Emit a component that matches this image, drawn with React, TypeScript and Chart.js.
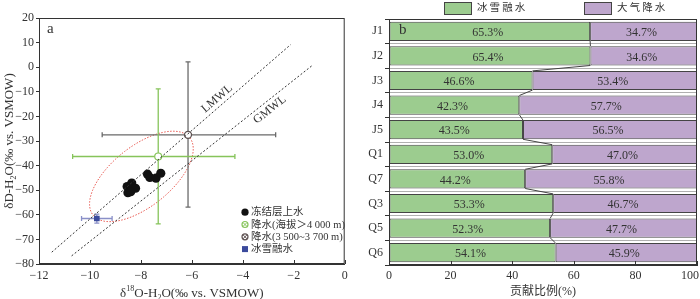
import React, { useEffect, useRef } from 'react';
import { Chart, registerables } from 'chart.js';

Chart.register(...registerables);

const SERIF = '"Liberation Serif", "DejaVu Serif", "Noto Sans CJK SC", serif';
const TEXT = '#333333';
const AXIS = '#333333';

// ---------------- Panel a : isotope scatter ----------------
const SUPRA_O = [-7.74, -7.65, -7.41, -7.22, -8.54, -8.36, -8.21, -8.51, -8.4];
const SUPRA_D = [-43.5, -44.8, -45.1, -43.1, -48.5, -47.1, -49.2, -51.0, -50.6];

const PRECIP_HIGH_O = [-7.32];
const PRECIP_HIGH_D = [-36.3];
const PRECIP_HIGH_O_RANGE = [-10.68, -4.31];
const PRECIP_HIGH_D_RANGE = [-63.7, -8.8];

const PRECIP_MID_O = [-6.15];
const PRECIP_MID_D = [-27.5];
const PRECIP_MID_O_RANGE = [-9.52, -2.71];
const PRECIP_MID_D_RANGE = [-56.9, 2.2];

const SNOW_O = [-9.73];
const SNOW_D = [-61.5];
const SNOW_O_RANGE = [-10.33, -9.13];
const SNOW_D_RANGE = [-63.4, -59.7];

const LMWL_O = [-11.5, -2.12];
const LMWL_D = [-75.2, 9.2];
const GMWL_O = [-10.72, -1.28];
const GMWL_D = [-76.7, 0.65];

const ELLIPSE_CENTER = [-7.98, -44.4];
const ELLIPSE_AXIS_A = [1.9, 15.7];
const ELLIPSE_AXIS_B = [0.73, -9.57];

const LMWL_LABEL_AT = [-5.01, -12.8];
const GMWL_LABEL_AT = [-2.94, -17.3];

const A_X_MIN = -12, A_X_MAX = 0, A_X_STEP = 2;
const A_Y_MIN = -80, A_Y_MAX = 20, A_Y_STEP = 10;

const LEGEND_A = ['冻结层上水', '降水(海拔＞4 000 m)', '降水(3 500~3 700 m)', '冰雪融水'];

// ---------------- Panel b : contribution bars ----------------
const SITES = ['J1', 'J2', 'J3', 'J4', 'J5', 'Q1', 'Q7', 'Q3', 'Q5', 'Q6'];
const SNOWMELT_PCT = [65.3, 65.4, 46.6, 42.3, 43.5, 53.0, 44.2, 53.3, 52.3, 54.1];
const RAIN_PCT = [34.7, 34.6, 53.4, 57.7, 56.5, 47.0, 55.8, 46.7, 47.7, 45.9];
const LEGEND_B = ['冰雪融水', '大气降水'];
const B_X_MIN = 0, B_X_MAX = 100, B_X_STEP = 20;

const GREEN_PT = '#86c45a';
const GRAY_PT = '#5e5252';
const GRAY_BAR = '#6a6a6a';
const BLUE_BAR = '#8a90c8';
const BLUE_PT = '#3b4a9c';
const RED_ELL = '#e8574f';
const BAR_GREEN = '#9ccc8f';
const BAR_PURPLE = '#bea6cd';
const BAR_EDGE = '#444444';

const fmt = (v: number) => (v < 0 ? '\u2212' + Math.abs(v) : String(v));
const pts = (xs: number[], ys: number[]) => xs.map((x, i) => ({ x, y: ys[i] }));

type Seg = { t: string; s?: 'sub' | 'sup' };
function drawRich(ctx: CanvasRenderingContext2D, segs: Seg[], cx: number, cy: number, size: number, rot: number) {
  ctx.save();
  ctx.translate(cx, cy);
  ctx.rotate(rot);
  const small = size * 0.62;
  const widths = segs.map((sg) => {
    ctx.font = `${sg.s ? small : size}px ${SERIF}`;
    return ctx.measureText(sg.t).width;
  });
  const total = widths.reduce((a, b) => a + b, 0);
  let x = -total / 2;
  ctx.textAlign = 'left';
  ctx.textBaseline = 'alphabetic';
  ctx.fillStyle = TEXT;
  segs.forEach((sg, i) => {
    ctx.font = `${sg.s ? small : size}px ${SERIF}`;
    const dy = sg.s === 'sub' ? size * 0.25 : sg.s === 'sup' ? -size * 0.4 : 0;
    ctx.fillText(sg.t, x, size * 0.35 + dy);
    x += widths[i];
  });
  ctx.restore();
}

function drawCircleX(ctx: CanvasRenderingContext2D, x: number, y: number, r: number, color: string) {
  ctx.save();
  ctx.strokeStyle = color;
  ctx.lineWidth = 1.2;
  ctx.fillStyle = '#fff';
  ctx.beginPath();
  ctx.arc(x, y, r, 0, Math.PI * 2);
  ctx.fill();
  ctx.stroke();
  const d = r * Math.SQRT1_2;
  ctx.lineWidth = 1;
  ctx.beginPath();
  ctx.moveTo(x - d, y - d);
  ctx.lineTo(x + d, y + d);
  ctx.moveTo(x - d, y + d);
  ctx.lineTo(x + d, y - d);
  ctx.stroke();
  ctx.restore();
}

const panelAPlugin = {
  id: 'panelA',
  beforeDatasetsDraw(chart: any) {
    const { ctx, chartArea } = chart;
    const xs = chart.scales.x;
    const ys = chart.scales.y;
    ctx.save();
    ctx.beginPath();
    ctx.rect(chartArea.left, chartArea.top, chartArea.right - chartArea.left, chartArea.bottom - chartArea.top);
    ctx.clip();
    // ellipse
    ctx.strokeStyle = RED_ELL;
    ctx.lineWidth = 1;
    ctx.setLineDash([1.5, 1.5]);
    ctx.beginPath();
    for (let k = 0; k <= 160; k++) {
      const t = (k / 160) * Math.PI * 2;
      const dx = ELLIPSE_CENTER[0] + ELLIPSE_AXIS_A[0] * Math.cos(t) + ELLIPSE_AXIS_B[0] * Math.sin(t);
      const dy = ELLIPSE_CENTER[1] + ELLIPSE_AXIS_A[1] * Math.cos(t) + ELLIPSE_AXIS_B[1] * Math.sin(t);
      const px = xs.getPixelForValue(dx);
      const py = ys.getPixelForValue(dy);
      if (k === 0) ctx.moveTo(px, py);
      else ctx.lineTo(px, py);
    }
    ctx.stroke();
    ctx.setLineDash([]);
    // error bars
    const groups = [
      { o: PRECIP_MID_O[0], d: PRECIP_MID_D[0], or: PRECIP_MID_O_RANGE, dr: PRECIP_MID_D_RANGE, c: GRAY_BAR },
      { o: PRECIP_HIGH_O[0], d: PRECIP_HIGH_D[0], or: PRECIP_HIGH_O_RANGE, dr: PRECIP_HIGH_D_RANGE, c: GREEN_PT },
      { o: SNOW_O[0], d: SNOW_D[0], or: SNOW_O_RANGE, dr: SNOW_D_RANGE, c: BLUE_BAR },
    ];
    const cap = 2.5;
    groups.forEach((g) => {
      const px = xs.getPixelForValue(g.o);
      const py = ys.getPixelForValue(g.d);
      const x0 = xs.getPixelForValue(g.or[0]);
      const x1 = xs.getPixelForValue(g.or[1]);
      const y0 = ys.getPixelForValue(g.dr[0]);
      const y1 = ys.getPixelForValue(g.dr[1]);
      ctx.strokeStyle = g.c;
      ctx.lineWidth = 1.3;
      ctx.beginPath();
      ctx.moveTo(x0, py);
      ctx.lineTo(x1, py);
      ctx.moveTo(x0, py - cap);
      ctx.lineTo(x0, py + cap);
      ctx.moveTo(x1, py - cap);
      ctx.lineTo(x1, py + cap);
      ctx.moveTo(px, y0);
      ctx.lineTo(px, y1);
      ctx.moveTo(px - cap, y0);
      ctx.lineTo(px + cap, y0);
      ctx.moveTo(px - cap, y1);
      ctx.lineTo(px + cap, y1);
      ctx.stroke();
    });
    ctx.restore();
  },
  afterDraw(chart: any) {
    const { ctx, chartArea } = chart;
    const xs = chart.scales.x;
    const ys = chart.scales.y;
    ctx.save();
    // frame
    ctx.strokeStyle = AXIS;
    ctx.lineWidth = 1;
    ctx.strokeRect(chartArea.left + 0.5, chartArea.top + 0.5, chartArea.right - chartArea.left - 1, chartArea.bottom - chartArea.top - 1);
    // inward x ticks
    ctx.beginPath();
    xs.ticks.forEach((t: any) => {
      const x = Math.round(xs.getPixelForValue(t.value)) + 0.5;
      ctx.moveTo(x, chartArea.bottom);
      ctx.lineTo(x, chartArea.bottom - 4);
    });
    ctx.stroke();
    // panel letter
    ctx.fillStyle = TEXT;
    ctx.font = `15px ${SERIF}`;
    ctx.textAlign = 'left';
    ctx.textBaseline = 'middle';
    ctx.fillText('a', chartArea.left + 8, chartArea.top + 11);
    // meteoric water line labels
    const lab = (txt: string, at: number[], lo: number[], ld: number[]) => {
      const p0x = xs.getPixelForValue(lo[0]);
      const p0y = ys.getPixelForValue(ld[0]);
      const p1x = xs.getPixelForValue(lo[1]);
      const p1y = ys.getPixelForValue(ld[1]);
      const ang = Math.atan2(p1y - p0y, p1x - p0x);
      ctx.save();
      ctx.translate(xs.getPixelForValue(at[0]), ys.getPixelForValue(at[1]));
      ctx.rotate(ang);
      ctx.font = `12px ${SERIF}`;
      ctx.textAlign = 'center';
      ctx.textBaseline = 'middle';
      ctx.fillStyle = TEXT;
      ctx.fillText(txt, 0, 0);
      ctx.restore();
    };
    lab('LMWL', LMWL_LABEL_AT, LMWL_O, LMWL_D);
    lab('GMWL', GMWL_LABEL_AT, GMWL_O, GMWL_D);
    // legend
    const lx = chartArea.left + 206;
    const ly0 = chartArea.top + 194.2;
    const gap = 12.3;
    ctx.font = `10.5px ${SERIF}`;
    ctx.textAlign = 'left';
    ctx.textBaseline = 'middle';
    LEGEND_A.forEach((txt, i) => {
      const y = ly0 + i * gap;
      if (i === 0) {
        ctx.fillStyle = '#111';
        ctx.beginPath();
        ctx.arc(lx, y, 3.6, 0, Math.PI * 2);
        ctx.fill();
      } else if (i === 1) {
        drawCircleX(ctx, lx, y, 3, GREEN_PT);
      } else if (i === 2) {
        drawCircleX(ctx, lx, y, 3, GRAY_PT);
      } else {
        ctx.fillStyle = BLUE_PT;
        ctx.fillRect(lx - 3, y - 3, 6, 6);
      }
      ctx.fillStyle = TEXT;
      ctx.fillText(txt, lx + 6, y + 0.5);
    });
    // axis titles
    const cx = (chartArea.left + chartArea.right) / 2;
    drawRich(ctx, [{ t: 'δ' }, { t: '18', s: 'sup' }, { t: 'O-H' }, { t: '2', s: 'sub' }, { t: 'O(‰ vs. VSMOW)' }], cx, 292, 13, 0);
    const cy = (chartArea.top + chartArea.bottom) / 2;
    drawRich(ctx, [{ t: 'δD-H' }, { t: '2', s: 'sub' }, { t: 'O(‰ vs. VSMOW)' }], 8, cy, 13, -Math.PI / 2);
    ctx.restore();
  },
};

const panelBPlugin = {
  id: 'panelB',
  afterDatasetsDraw(chart: any) {
    const { ctx, chartArea } = chart;
    const m0 = chart.getDatasetMeta(0);
    const m1 = chart.getDatasetMeta(1);
    ctx.save();
    // connectors between the boundaries
    ctx.strokeStyle = BAR_EDGE;
    ctx.lineWidth = 1;
    ctx.beginPath();
    for (let i = 0; i < m0.data.length - 1; i++) {
      const a = m0.data[i];
      const b = m0.data[i + 1];
      ctx.moveTo(a.x, a.y + a.height / 2);
      ctx.lineTo(b.x, b.y - b.height / 2);
    }
    ctx.stroke();
    // value labels
    ctx.fillStyle = TEXT;
    ctx.font = `12px ${SERIF}`;
    ctx.textAlign = 'center';
    ctx.textBaseline = 'middle';
    [m0, m1].forEach((m, di) => {
      const vals = di === 0 ? SNOWMELT_PCT : RAIN_PCT;
      m.data.forEach((bar: any, i: number) => {
        const x = (bar.x + bar.base) / 2 - 2;
        ctx.fillText(vals[i].toFixed(1) + '%', x, bar.y + 1.5);
      });
    });
    ctx.restore();
  },
  afterDraw(chart: any) {
    const { ctx, chartArea, width } = chart;
    const xs = chart.scales.x;
    ctx.save();
    ctx.strokeStyle = AXIS;
    ctx.lineWidth = 1;
    ctx.strokeRect(chartArea.left + 0.5, chartArea.top + 0.5, chartArea.right - chartArea.left - 1, chartArea.bottom - chartArea.top - 1);
    ctx.beginPath();
    xs.ticks.forEach((t: any) => {
      const x = Math.round(xs.getPixelForValue(t.value)) + 0.5;
      ctx.moveTo(x, chartArea.bottom);
      ctx.lineTo(x, chartArea.bottom - 4);
    });
    ctx.stroke();
    // x tick labels
    ctx.fillStyle = TEXT;
    ctx.font = `12px ${SERIF}`;
    ctx.textAlign = 'center';
    ctx.textBaseline = 'middle';
    xs.ticks.forEach((t: any) => {
      const label = String(t.value);
      const w = ctx.measureText(label).width;
      let x = xs.getPixelForValue(t.value);
      if (x + w / 2 > width - 1) x = width - 1 - w / 2;
      ctx.fillText(label, x, chartArea.bottom + 11);
    });
    // panel letter
    ctx.font = `15px ${SERIF}`;
    ctx.textAlign = 'left';
    ctx.fillText('b', chartArea.left + 10, chartArea.top + 11);
    // axis title
    ctx.font = `12px ${SERIF}`;
    ctx.textAlign = 'center';
    ctx.fillText('贡献比例(%)', (chartArea.left + chartArea.right) / 2, 292);
    // legend
    const items = [
      { x: 94, c: BAR_GREEN },
      { x: 234, c: BAR_PURPLE },
    ];
    ctx.font = `10.5px ${SERIF}`;
    ctx.textAlign = 'left';
    items.forEach((it, i) => {
      ctx.fillStyle = it.c;
      ctx.fillRect(it.x, 2, 27, 12);
      ctx.strokeStyle = BAR_EDGE;
      ctx.strokeRect(it.x + 0.5, 2.5, 27, 12);
      ctx.fillStyle = TEXT;
      ctx.fillText(LEGEND_B[i].split('').join('\u2009'), it.x + 33, 8.5);
    });
    ctx.restore();
  },
};

function makeA(canvas: HTMLCanvasElement) {
  return new Chart(canvas, {
    type: 'scatter',
    data: {
      datasets: [
        { data: pts(LMWL_O, LMWL_D), showLine: true, borderColor: '#333', borderWidth: 1, borderDash: [2, 2], pointRadius: 0 } as any,
        { data: pts(GMWL_O, GMWL_D), showLine: true, borderColor: '#333', borderWidth: 1, borderDash: [2, 2], pointRadius: 0 } as any,
        { data: pts(SUPRA_O, SUPRA_D), pointStyle: 'circle', pointRadius: 4.6, backgroundColor: '#111', borderColor: '#111', borderWidth: 0 },
        { data: pts(PRECIP_HIGH_O, PRECIP_HIGH_D), pointStyle: 'circle', pointRadius: 3.5, backgroundColor: '#fff', borderColor: GREEN_PT, borderWidth: 1.2 },
        { data: pts(PRECIP_HIGH_O, PRECIP_HIGH_D), pointStyle: 'crossRot', pointRadius: 3.5, borderColor: GREEN_PT, borderWidth: 1 },
        { data: pts(PRECIP_MID_O, PRECIP_MID_D), pointStyle: 'circle', pointRadius: 3.5, backgroundColor: '#fff', borderColor: GRAY_PT, borderWidth: 1.3 },
        { data: pts(PRECIP_MID_O, PRECIP_MID_D), pointStyle: 'crossRot', pointRadius: 3.5, borderColor: GRAY_PT, borderWidth: 1 },
        { data: pts(SNOW_O, SNOW_D), pointStyle: 'rect', pointRadius: 4, backgroundColor: BLUE_PT, borderColor: BLUE_PT, borderWidth: 0 },
      ],
    },
    options: {
      responsive: false,
      animation: false,
      events: [],
      layout: { padding: { left: 0, right: 5, top: 18, bottom: 0 } },
      plugins: { legend: { display: false }, tooltip: { enabled: false } },
      scales: {
        x: {
          type: 'linear',
          min: A_X_MIN,
          max: A_X_MAX,
          ticks: { stepSize: A_X_STEP, color: TEXT, font: { family: SERIF, size: 12 }, padding: 5, maxRotation: 0, callback: (v: any) => fmt(Number(v)) },
          grid: { drawOnChartArea: false, drawTicks: false },
          border: { color: AXIS, width: 1 },
          afterFit: (s: any) => {
            s.height = 35;
            s.paddingLeft = 0;
            s.paddingRight = 0;
          },
        },
        y: {
          type: 'linear',
          min: A_Y_MIN,
          max: A_Y_MAX,
          ticks: { stepSize: A_Y_STEP, color: TEXT, font: { family: SERIF, size: 12 }, padding: 2, callback: (v: any) => fmt(Number(v)) },
          grid: { drawOnChartArea: false, drawTicks: true, tickLength: 3, color: AXIS },
          border: { color: AXIS, width: 1 },
          afterFit: (s: any) => {
            s.width = 39;
            s.paddingTop = 0;
            s.paddingBottom = 0;
          },
        },
      },
    } as any,
    plugins: [panelAPlugin],
  });
}

function makeB(canvas: HTMLCanvasElement) {
  return new Chart(canvas, {
    type: 'bar',
    data: {
      labels: SITES,
      datasets: [
        { data: SNOWMELT_PCT, backgroundColor: BAR_GREEN, borderColor: BAR_EDGE, borderWidth: 1, borderSkipped: false, barPercentage: 0.78, categoryPercentage: 1 },
        { data: RAIN_PCT, backgroundColor: BAR_PURPLE, borderColor: BAR_EDGE, borderWidth: 1, borderSkipped: false, barPercentage: 0.78, categoryPercentage: 1 },
      ],
    },
    options: {
      indexAxis: 'y',
      responsive: false,
      animation: false,
      events: [],
      layout: { padding: { left: 0, right: 3, top: 19, bottom: 0 } },
      plugins: { legend: { display: false }, tooltip: { enabled: false } },
      scales: {
        x: {
          type: 'linear',
          stacked: true,
          min: B_X_MIN,
          max: B_X_MAX,
          ticks: { stepSize: B_X_STEP, display: false },
          grid: { drawOnChartArea: false, drawTicks: false },
          border: { color: AXIS, width: 1 },
          afterFit: (s: any) => {
            s.height = 34;
            s.paddingLeft = 0;
            s.paddingRight = 0;
          },
        },
        y: {
          type: 'category',
          stacked: true,
          ticks: { color: TEXT, font: { family: SERIF, size: 12 }, padding: 2 },
          grid: { offset: true, drawOnChartArea: true, drawTicks: true, tickLength: 4, color: '#b0b0b0', tickColor: AXIS, borderDash: [1, 2], tickBorderDash: [] } as any,
          border: { color: AXIS, width: 1 },
          afterFit: (s: any) => {
            s.width = 39;
            s.paddingTop = 0;
            s.paddingBottom = 0;
          },
        },
      },
    } as any,
    plugins: [panelBPlugin],
  });
}

export default function App() {
  const leftRef = useRef<HTMLCanvasElement>(null);
  const rightRef = useRef<HTMLCanvasElement>(null);
  useEffect(() => {
    const a = makeA(leftRef.current as HTMLCanvasElement);
    const b = makeB(rightRef.current as HTMLCanvasElement);
    return () => {
      a.destroy();
      b.destroy();
    };
  }, []);
  return (
    <div style={{ position: 'fixed', left: 0, top: 0, width: 700, height: 299, background: '#fff', overflow: 'hidden' }}>
      <canvas ref={leftRef} width={350} height={299} style={{ position: 'absolute', left: 0, top: 0, width: 350, height: 299 }} />
      <canvas ref={rightRef} width={350} height={299} style={{ position: 'absolute', left: 350, top: 0, width: 350, height: 299 }} />
    </div>
  );
}
